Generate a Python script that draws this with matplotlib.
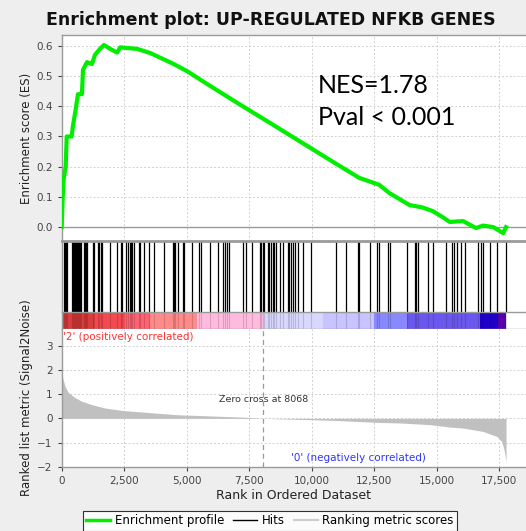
import matplotlib
matplotlib.use("Agg")
import matplotlib.pyplot as plt
from matplotlib.lines import Line2D
from matplotlib.ticker import FuncFormatter

# ---------------- data ----------------
es_rank = [0, 40, 80, 160, 200, 400, 440, 560, 650, 810, 850, 1010, 1210, 1330, 1530,
           1690, 1940, 2220, 2340, 3020, 3550, 4350, 4480, 5040, 5850, 6890, 8270,
           9600, 10930, 11900, 12700, 13100, 13910, 14430, 14840, 15240, 15520,
           16050, 16570, 16850, 17260, 17660, 17770]
es_score = [0.0, 0.10, 0.16, 0.20, 0.30, 0.30, 0.33, 0.39, 0.44, 0.44, 0.52, 0.546,
            0.54, 0.57, 0.59, 0.603, 0.59, 0.578, 0.595, 0.59, 0.576, 0.545, 0.54,
            0.515, 0.472, 0.418, 0.348, 0.28, 0.212, 0.163, 0.14, 0.113, 0.073, 0.065,
            0.053, 0.033, 0.017, 0.02, -0.003, 0.005, 0.0, -0.02, 0.0]

hits = [92, 132, 172, 212, 412, 452, 492, 532, 572, 612, 652, 692, 732, 772,
        892, 932, 972, 1012, 1252, 1292, 1452, 1492, 1572, 1612, 1944, 2212,
        2352, 2392, 2560, 2640, 2712, 2772, 2824, 2904, 3072, 3132, 3304, 3492,
        3692, 4092, 4432, 4492, 4532, 4640, 4832, 4872, 5200, 5492, 5572, 5912,
        6232, 6452, 6532, 6592, 6704, 7264, 7372, 7600, 7932, 7972, 8032, 8072,
        8232, 8292, 8352, 8432, 8492, 8552, 8720, 8852, 9032, 9092, 9152, 9252,
        9332, 9440, 9652, 9972, 10984, 11384, 11832, 11892, 12312, 12612, 12692,
        13052, 13132, 13812, 14112, 14172, 14232, 14664, 14840, 15384, 15592,
        15672, 15812, 15952, 16132, 16640, 16772, 16852, 17120, 17412, 17760]

metric_rank = [0, 132, 264, 532, 800, 1200, 1732, 2400, 3732, 4652, 5732, 7532,
               8068, 10852, 12732, 13532, 14732, 15532, 16052, 16852, 17412,
               17600, 17692, 17772]
metric_val = [1.82, 1.33, 1.07, 0.86, 0.71, 0.57, 0.43, 0.33, 0.22, 0.15, 0.11,
              0.04, 0.0, -0.08, -0.17, -0.19, -0.26, -0.36, -0.40, -0.54, -0.75,
              -0.96, -1.3, -1.79]

band_edges = [0, 1300, 2530, 3530, 5410, 8050, 10450, 12490, 13810, 16730, 17450, 17770]
band_colors = ["#dc3c3c", "#f24a50", "#ff6272", "#ff8a8a", "#ffbbdd", "#d8d8ff",
               "#c8c4ff", "#8888ff", "#6a58ee", "#2200cc", "#5500aa"]

zero_cross = 8068
x_ticks = [0, 2500, 5000, 7500, 10000, 12500, 15000, 17500]
es_ticks = [0.0, 0.1, 0.2, 0.3, 0.4, 0.5, 0.6]
metric_ticks = [-2, -1, 0, 1, 2, 3]

title = "Enrichment plot: UP-REGULATED NFKB GENES"
nes_text = "NES=1.78\nPval < 0.001"

# ---------------- figure ----------------
W, H = 526, 531
fig = plt.figure(figsize=(W / 100, H / 100), dpi=100, facecolor="#eeeeee")

def fx(px):
    return px / W

def fy(py):
    return 1 - py / H

left = fx(61.7)
width = 1 - left
XMAX = 18570

ax_es = fig.add_axes([left, fy(241), width, (241 - 35) / H])
ax_hit = fig.add_axes([left, fy(312), width, (312 - 241) / H])
ax_bar = fig.add_axes([left, fy(329), width, (329 - 312) / H])
ax_met = fig.add_axes([left, fy(466.7), width, (466.7 - 329) / H])

spine_col = "#9a9a9a"
tick_col = "#444444"
grid_kw = dict(color="#d0d0d0", linestyle=(0, (2, 2)), linewidth=0.7)

for ax in (ax_es, ax_hit, ax_bar, ax_met):
    ax.set_facecolor("white")
    ax.set_xlim(0, XMAX)
    for s in ax.spines.values():
        s.set_color(spine_col)
        s.set_linewidth(1.0)
    ax.spines["right"].set_visible(False)

# ES panel
ax_es.set_ylim(-0.046, 0.636)
ax_es.set_yticks(es_ticks)
ax_es.yaxis.set_major_formatter(FuncFormatter(lambda v, p: f"{v:.1f}"))
ax_es.set_xticks(x_ticks)
ax_es.tick_params(axis="x", length=0, labelbottom=False)
ax_es.tick_params(axis="y", labelsize=7.5, colors=tick_col, length=3)
ax_es.grid(True, **grid_kw)
ax_es.set_axisbelow(True)
ax_es.axhline(0, color="#999999", lw=1.0, zorder=1)
ax_es.plot(es_rank, es_score, color="#00ee00", lw=3.0, zorder=3,
           solid_joinstyle="round")
ax_es.set_ylabel("Enrichment score (ES)", fontsize=8.5, color="#222222")
fig.text(fx(318), fy(74), nes_text, fontsize=18, family="Lato", va="top",
         ha="left", color="black", linespacing=1.45)
ax_es.spines["bottom"].set_visible(False)

# hits panel
ax_hit.set_ylim(0, 1)
ax_hit.vlines(hits, 0, 1, color="black", lw=0.9)
ax_hit.set_xticks([])
ax_hit.set_yticks([])
ax_hit.spines["top"].set_linewidth(2.0)
ax_hit.spines["bottom"].set_visible(False)

# color band
ax_bar.set_ylim(0, 1)
for i, c in enumerate(band_colors):
    ax_bar.axvspan(band_edges[i], band_edges[i + 1], color=c, lw=0)
ax_bar.vlines(hits, 0, 1, color="black", lw=0.8, alpha=0.15)
ax_bar.set_xticks([])
ax_bar.set_yticks([])

# metric panel
ax_met.set_ylim(-2, 3.7)
ax_met.set_yticks(metric_ticks)
ax_met.set_xticks(x_ticks)
ax_met.xaxis.set_major_formatter(FuncFormatter(lambda v, p: f"{int(v):,}"))
ax_met.tick_params(axis="both", labelsize=7.5, colors=tick_col, length=3)
ax_met.grid(True, **grid_kw)
ax_met.set_axisbelow(True)
ax_met.fill_between(metric_rank, 0, metric_val, color="#c0c0c0", lw=0, zorder=2)
ax_met.axvline(zero_cross, color="#999999", lw=0.9, linestyle=(0, (4, 3)), zorder=3)
ax_met.text(zero_cross, 0.8, f"Zero cross at {zero_cross}", fontsize=6.8,
            color="#333333", ha="center", va="center")
ax_met.text(60, 3.35, "'2' (positively correlated)", fontsize=7.5,
            color="#ff3333", ha="left", va="center")
ax_met.text(11850, -1.64, "'0' (negatively correlated)", fontsize=7.5,
            color="#3333ff", ha="center", va="center")
ax_met.set_xlabel("Rank in Ordered Dataset", fontsize=9, color="#222222", labelpad=2)
ax_met.set_ylabel("Ranked list metric (Signal2Noise)", fontsize=8.5, color="#222222")
ax_met.spines["top"].set_visible(False)

# align y labels
ax_es.yaxis.set_label_coords(-0.062, 0.5)
ax_met.yaxis.set_label_coords(-0.062, 0.5)

fig.text(fx(271), fy(20), title, ha="center", va="center", fontsize=12.5,
         fontweight="bold", color="#111111")

handles = [Line2D([], [], color="#00ee00", lw=2.5),
           Line2D([], [], color="black", lw=1.0),
           Line2D([], [], color="#cccccc", lw=1.5)]
labels = ["Enrichment profile", "Hits", "Ranking metric scores"]
leg = fig.legend(handles, labels, loc="upper center", bbox_to_anchor=(fx(270), fy(505)),
                 ncol=3, fontsize=8.5, frameon=True, fancybox=False,
                 edgecolor="black", handlelength=2.0, handletextpad=0.4,
                 columnspacing=0.8, borderpad=0.3)
leg.get_frame().set_linewidth(0.8)

fig.savefig("out.png", dpi=100, facecolor=fig.get_facecolor())
